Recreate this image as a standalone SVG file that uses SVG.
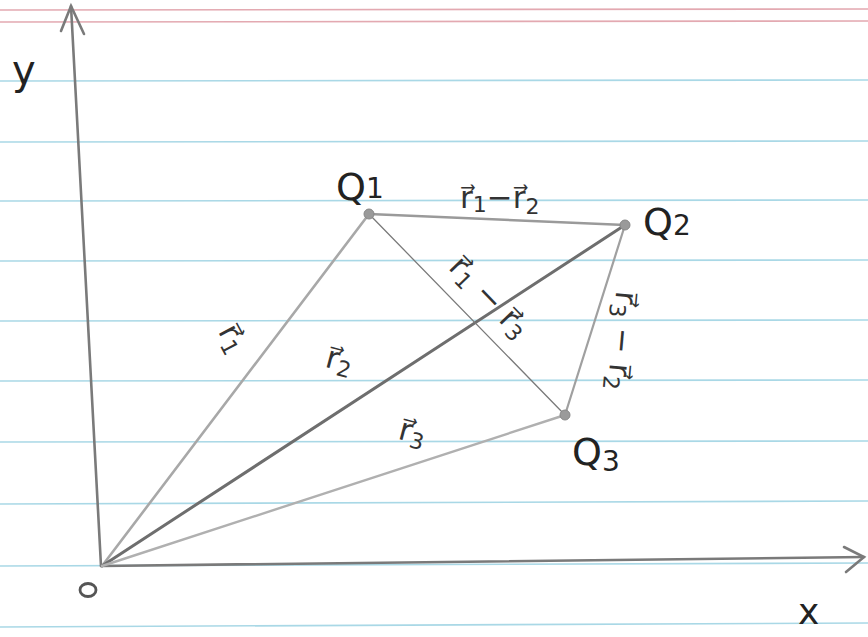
<svg xmlns="http://www.w3.org/2000/svg" width="868" height="637" viewBox="0 0 868 637">
<defs>
<style>
.blue{stroke:#a9d8e6;stroke-width:1.6}
.red{stroke:#e3a9b1;stroke-width:1.6}
.axis{stroke:#7a7a7a;stroke-width:2.6;fill:none;stroke-linecap:round}
.lbl{font-family:"DejaVu Sans",sans-serif;fill:#222}
.big{font-size:38px}
.sub{font-size:22px}
.vec{font-family:"DejaVu Sans",sans-serif;fill:#333;font-size:31px}
.pt{fill:#9a9a9a;stroke:#888;stroke-width:1}
</style>
</defs>
<rect width="868" height="637" fill="#ffffff"/>
<g id="paper">
<line class="red" x1="0" y1="10" x2="868" y2="9"/>
<line class="red" x1="0" y1="22" x2="868" y2="21"/>
<line class="blue" x1="0" y1="81" x2="868" y2="80"/>
<line class="blue" x1="0" y1="142" x2="868" y2="141"/>
<line class="blue" x1="0" y1="201" x2="868" y2="200"/>
<line class="blue" x1="0" y1="261" x2="868" y2="260"/>
<line class="blue" x1="0" y1="321" x2="868" y2="320"/>
<line class="blue" x1="0" y1="381" x2="868" y2="380"/>
<line class="blue" x1="0" y1="442" x2="868" y2="441"/>
<line class="blue" x1="0" y1="504" x2="868" y2="501"/>
<line class="blue" x1="0" y1="566" x2="868" y2="563"/>
<line class="blue" x1="0" y1="627" x2="868" y2="623"/>
</g>
<g id="axes">
<path class="axis" d="M101 566 L71 6"/>
<path class="axis" d="M61 31 L71 6 L84 34"/>
<path class="axis" d="M101 566 L864 557"/>
<path class="axis" d="M844 547 L864 557 L846 572"/>
<text class="lbl" x="12" y="84" font-size="40">y</text>
<text class="lbl" x="798" y="624" font-size="36">x</text>
</g>
<g id="connectors" fill="none" stroke-linecap="round">
<line id="r1" x1="102" y1="566" x2="369" y2="214" stroke="#a8a8a8" stroke-width="2.6"/>
<line id="r2" x1="102" y1="566" x2="625" y2="225" stroke="#6e6e6e" stroke-width="3"/>
<line id="r3" x1="102" y1="566" x2="565" y2="415" stroke="#b0b0b0" stroke-width="2.4"/>
<line id="r1r2" x1="369" y1="214" x2="625" y2="225" stroke="#9a9a9a" stroke-width="2.6"/>
<line id="r1r3" x1="369" y1="214" x2="565" y2="415" stroke="#7a7a7a" stroke-width="1.3"/>
<line id="r3r2" x1="625" y1="225" x2="565" y2="415" stroke="#a0a0a0" stroke-width="2.2"/>
</g>
<g id="O">
<ellipse cx="88" cy="590" rx="8" ry="6.5" fill="none" stroke="#555" stroke-width="2.8"/>
</g>
<g id="Q1">
<circle class="pt" cx="369" cy="214" r="5"/>
<text class="lbl big" x="336" y="200">Q<tspan font-size="28" dy="-2">1</tspan></text>
</g>
<g id="Q2">
<circle class="pt" cx="625" cy="225" r="5"/>
<text class="lbl big" x="643" y="235">Q<tspan font-size="28" dy="0">2</tspan></text>
</g>
<g id="Q3">
<circle class="pt" cx="565" cy="415" r="5"/>
<text class="lbl big" x="572" y="465">Q<tspan font-size="28" dy="6">3</tspan></text>
</g>
<g id="labels">
<text class="vec" x="460" y="208">r&#x20D7;<tspan font-size="22" dy="4">1</tspan><tspan dy="-4">−r&#x20D7;</tspan><tspan font-size="22" dy="6">2</tspan></text>
<text class="vec" transform="translate(224,343) rotate(62)" text-anchor="middle">r&#x20D7;<tspan font-size="22" dy="5">1</tspan></text>
<text class="vec" transform="translate(337,370) rotate(15)" text-anchor="middle">r&#x20D7;<tspan font-size="22" dy="5">2</tspan></text>
<text class="vec" transform="translate(410,442) rotate(15)" text-anchor="middle">r&#x20D7;<tspan font-size="22" dy="5">3</tspan></text>
<text class="vec" transform="translate(482,304) rotate(46)" text-anchor="middle">r&#x20D7;<tspan font-size="22" dy="5">1</tspan><tspan dy="-5"> − r&#x20D7;</tspan><tspan font-size="22" dy="5">3</tspan></text>
<text class="vec" transform="translate(612,340) rotate(95)" text-anchor="middle">r&#x20D7;<tspan font-size="22" dy="5">3</tspan><tspan dy="-5"> − r&#x20D7;</tspan><tspan font-size="22" dy="5">2</tspan></text>
</g>
</svg>
